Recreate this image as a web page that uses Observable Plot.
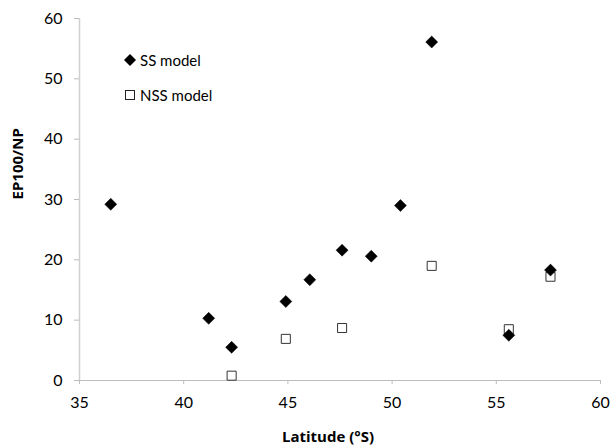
<!DOCTYPE html>
<html>
<head>
<meta charset="utf-8">
<script src="https://cdn.jsdelivr.net/npm/d3@7"></script>
<script src="https://cdn.jsdelivr.net/npm/@observablehq/plot@0.6"></script>
<style>
  html, body { margin: 0; padding: 0; background: #fff; }
  #wrap { position: relative; width: 611px; height: 445px; font-family: Lato, "Open Sans", sans-serif; }
  #legend { position: absolute; left: 122px; top: 48px; font-size: 15px; color: #000; line-height: 1; }
  #legend .row { position: absolute; left: 0; white-space: nowrap; display: flex; align-items: center; }
  #legend svg { display: block; }
</style>
</head>
<body>
<div id="wrap">
  <div id="chart"></div>
  <div id="legend">
    <div class="row" style="top:4px"><svg width="16" height="16"><path d="M8,2L14,8L8,14L2,8Z" fill="#000"/></svg><span style="margin-left:2px">SS model</span></div>
    <div class="row" style="top:39px"><svg width="16" height="16"><rect x="3.5" y="3.5" width="9" height="9" fill="#fff" stroke="#222"/></svg><span style="margin-left:2px">NSS model</span></div>
  </div>
</div>
<script>
// SS model (filled diamonds)
const ssLat = [36.5, 41.2, 42.3, 44.9, 46.05, 47.6, 49.0, 50.4, 51.9, 55.6, 57.6];
const ssVal = [29.2, 10.3, 5.5, 13.1, 16.7, 21.6, 20.6, 29.0, 56.1, 7.5, 18.3];
// NSS model (open squares)
const nssLat = [42.3, 44.9, 47.6, 51.9, 55.6, 57.6];
const nssVal = [0.8, 6.9, 8.7, 19.0, 8.5, 17.2];

const xTicks = [35, 40, 45, 50, 55, 60];
const yTicks = [0, 10, 20, 30, 40, 50, 60];

const ss = ssLat.map((x, i) => ({x, y: ssVal[i]}));
const nss = nssLat.map((x, i) => ({x, y: nssVal[i]}));

const chart = Plot.plot({
  width: 611,
  height: 445,
  marginLeft: 79,
  marginRight: 11,
  marginTop: 18,
  marginBottom: 65,
  style: {fontFamily: "Lato, 'Open Sans', sans-serif", fontSize: "16px", color: "#000", background: "#fff"},
  x: {domain: [35, 60]},
  y: {domain: [0, 60]},
  marks: [
    Plot.ruleY([0], {stroke: "#bdbdbd", strokeWidth: 1}),
    Plot.ruleX([35], {stroke: "#d0d0d0", strokeWidth: 1.5}),
    Plot.axisX({ticks: xTicks, tickSize: 4, tickPadding: 12, stroke: "#bdbdbd", label: null, fontSize: 16}),
    Plot.axisY({ticks: yTicks, tickSize: 5, tickPadding: 12, stroke: "#bdbdbd", label: null, fontSize: 16}),
    Plot.text(["Latitude (°S)"], {frameAnchor: "bottom", dy: 61, text: d => d, fontWeight: "bold", fontSize: 15, fontFamily: "'Open Sans', sans-serif", dx: -12}),
    Plot.text(["EP100/NP"], {frameAnchor: "left", dx: -61, rotate: -90, text: d => d, fontWeight: "bold", fontSize: 15, fontFamily: "'Open Sans', sans-serif"}),
    Plot.dot(nss, {x: "x", y: "y", symbol: "square", r: 5.1, fill: "#fff", stroke: "#333", strokeWidth: 1}),
    Plot.dot(ss, {x: "x", y: "y", symbol: "diamond2", r: 5.4, fill: "#000", stroke: "#000", strokeWidth: 0.5})
  ]
});
document.getElementById("chart").appendChild(chart);
</script>
</body>
</html>
